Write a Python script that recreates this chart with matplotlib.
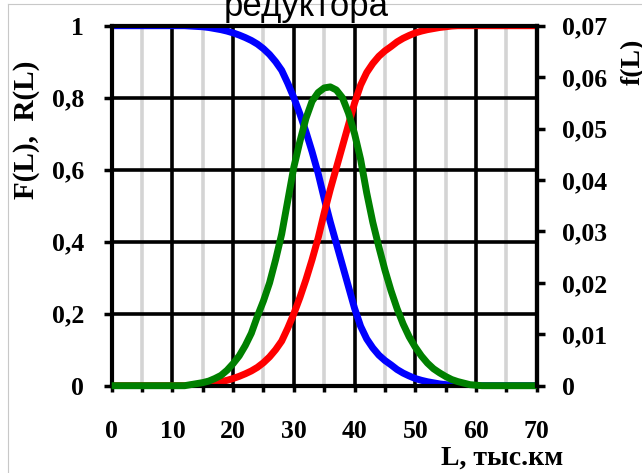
import numpy as np
import matplotlib
matplotlib.use("Agg")
import matplotlib.pyplot as plt
from matplotlib.lines import Line2D

# Mileage, thousand km
L = np.arange(0, 71)

# Failure probability F(L)
F = [0.0] * 13 + [
    0.001, 0.002, 0.003, 0.005, 0.008, 0.011, 0.015, 0.020, 0.026, 0.033,
    0.041, 0.051, 0.064, 0.080, 0.100, 0.124, 0.160, 0.200, 0.245, 0.295,
    0.350, 0.410, 0.480, 0.545, 0.605, 0.665, 0.725, 0.785, 0.835, 0.870,
    0.895, 0.915, 0.930, 0.942, 0.955, 0.965, 0.973, 0.980, 0.985, 0.989,
    0.992, 0.995, 0.997, 0.999,
] + [1.0] * 14

# Density f(L)
f = [0.0] * 13 + [
    0.0002, 0.0004, 0.0006, 0.0009, 0.0014, 0.0020, 0.0030, 0.0043, 0.0058, 0.0078,
    0.0102, 0.0135, 0.0165, 0.0200, 0.0245, 0.0295, 0.0360, 0.0425, 0.0475, 0.0520,
    0.0553, 0.0570, 0.0579, 0.0581, 0.0575, 0.0560, 0.0530, 0.0490, 0.0440, 0.0375,
    0.0318, 0.0270, 0.0225, 0.0185, 0.0150, 0.0120, 0.0095, 0.0075, 0.0058, 0.0044,
    0.0033, 0.0025, 0.0018, 0.0012, 0.0008, 0.0005, 0.0002, 0.0001,
] + [0.0] * 10

# Reliability R(L) = 1 - F(L)
R = [1 - v for v in F]

x_major = list(range(0, 71, 10))
x_minor = list(range(5, 71, 10))
y_left = [0, 0.2, 0.4, 0.6, 0.8, 1.0]
y_left_labels = ["0", "0,2", "0,4", "0,6", "0,8", "1"]
y_right = [0, 0.01, 0.02, 0.03, 0.04, 0.05, 0.06, 0.07]
y_right_labels = ["0", "0,01", "0,02", "0,03", "0,04", "0,05", "0,06", "0,07"]

W, H = 642, 473
fig = plt.figure(figsize=(W / 100, H / 100), dpi=100)
ax = fig.add_axes([111.7 / W, 1 - 385.7 / H, 425 / W, 360 / H])
ax2 = ax.twinx()

serif = "Liberation Serif"
tick_font = {"family": serif, "weight": "bold", "size": 18.5}
line_kw = dict(linewidth=5, solid_capstyle="butt")

# grid: black every 10, grey in between, black horizontal every 0.2
ax.set_xlim(0, 70)
ax.set_ylim(0, 1)
ax.set_xticks(x_major)
ax.set_xticks(x_minor, minor=True)
ax.set_xticklabels([str(v) for v in x_major], fontdict=tick_font)
ax.set_yticks(y_left)
ax.set_yticklabels(y_left_labels, fontdict=tick_font)
ax.grid(which="major", axis="both", color="black", linewidth=2.6)
ax.grid(which="minor", axis="x", color="#d4d4d4", linewidth=2.6)

ax.plot(L, R, color="#0000ff", **line_kw)
ax.plot(L, F, color="#ff0000", **line_kw)

ax2.set_ylim(0, 0.07)
ax2.set_yticks(y_right)
ax2.set_yticklabels(y_right_labels, fontdict=tick_font)
ax2.plot(L, f, color="#008000", clip_on=False, **line_kw)

ax.tick_params(axis="x", which="both", direction="out", length=4, width=2.5,
               color="black", pad=21)
ax.tick_params(axis="y", which="both", direction="out", length=6, width=2.5,
               color="black", pad=14, left=True, right=False)
ax2.yaxis.set_tick_params(which="major", direction="out", length=6, width=2.5,
                          color="black", pad=12, left=False, right=True,
                          labelleft=False, labelright=True)

for s in ax.spines.values():
    s.set_linewidth(3)
    s.set_color("black")
# the density curve sits on top of the primary frame
for side in ("top", "bottom", "left"):
    ax2.spines[side].set_visible(False)
ax2.spines["right"].set_linewidth(3)

fig.text(27 / W, 1 - 130 / H, "F(L),  R(L)", rotation=90, ha="center", va="center",
         family=serif, weight="bold", size=21)
fig.text(633 / W, 1 - 62 / H, "f(L)", rotation=90, ha="center", va="center",
         family=serif, weight="bold", size=20)
fig.text(502 / W, 1 - 458 / H, "L, тыс.км", ha="center", va="center",
         family=serif, weight="bold", size=20)
fig.text(306 / W, 1 - 15.6 / H, "редуктора", ha="center", va="baseline",
         family="Liberation Sans", size=25)

# thin frame of the chart area
fig.add_artist(Line2D([8 / W, 8 / W], [0, 1 - 4 / H], color="#c8c8c8", linewidth=0.8))
fig.add_artist(Line2D([8 / W, 1], [1 - 4 / H, 1 - 4 / H], color="#c8c8c8", linewidth=0.8))

fig.savefig("out.png", dpi=100)
